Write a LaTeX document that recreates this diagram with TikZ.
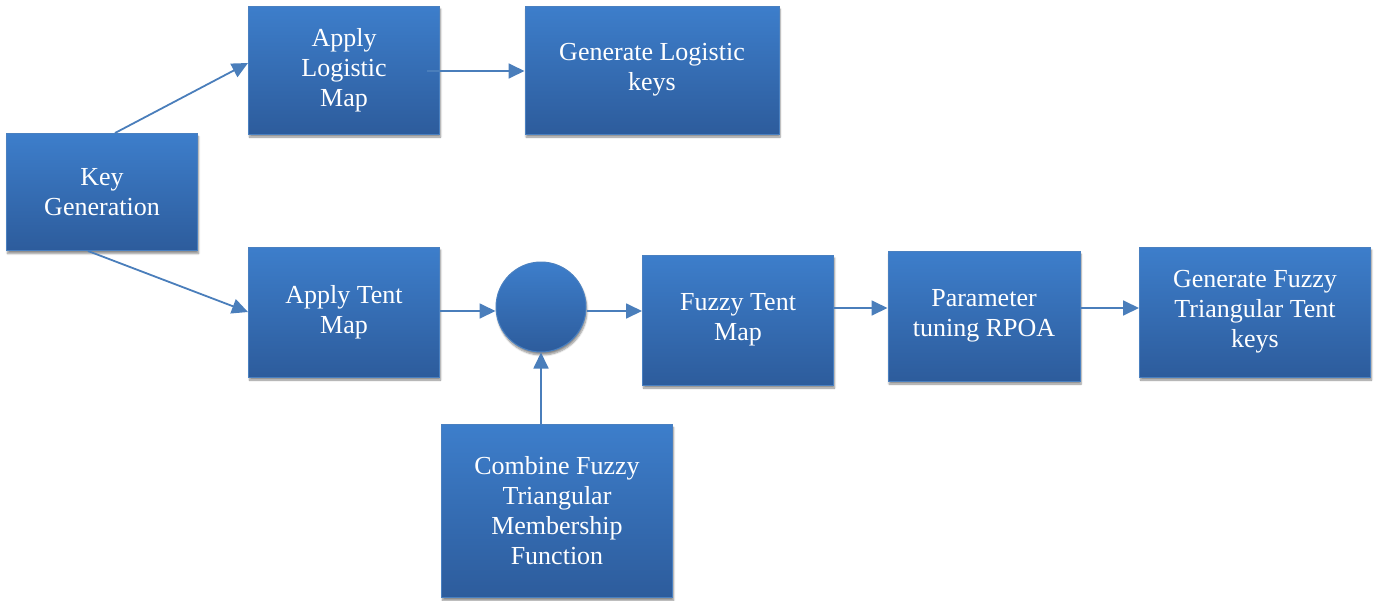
\documentclass[tikz,border=0pt]{standalone}
\usepackage{fontspec}
\setmainfont{Liberation Serif}
\usetikzlibrary{shapes,arrows.meta,positioning,calc,shadows.blur}
\usepackage{xcolor}
\definecolor{boxtop}{HTML}{3D7ECB}
\definecolor{boxbot}{HTML}{2D5C9C}
\definecolor{boxline}{HTML}{4A80C0}
\definecolor{flowline}{HTML}{4A7EBB}

\begin{document}
\begin{tikzpicture}[x=1pt, y=-1pt,
  block/.style={rectangle, draw=boxline, line width=1pt, top color=boxtop, bottom color=boxbot, text=white, align=center, font=\fontsize{26}{30}\selectfont, inner sep=2pt, blur shadow={shadow xshift=1pt, shadow yshift=-3pt, shadow blur steps=6, shadow opacity=45}},
  junction/.style={circle, draw=boxline, line width=1pt, top color=boxtop, bottom color=boxbot, minimum size=90pt, inner sep=0pt, blur shadow={shadow xshift=1pt, shadow yshift=-3pt, shadow blur steps=6, shadow opacity=45}},
  flow/.style={draw=flowline, line width=1.8pt, -{Triangle[length=16pt,width=15pt]}}
]
  \useasboundingbox (0,0) rectangle (1376,600);
  % left column
  \node[block, minimum width=191pt, minimum height=117pt] (keygen) at (102,192) {Key\\Generation};
  % logistic branch
  \node[block, minimum width=191pt, minimum height=128pt] (logistic) at (344,70) {Apply\\Logistic\\Map};
  \node[block, minimum width=254pt, minimum height=128pt] (logkeys) at (652,70) {Generate Logistic\\keys};
  % tent branch
  \node[block, minimum width=191pt, minimum height=130pt] (tent) at (344,312) {Apply Tent\\Map};
  \node[junction] (mix) at (541,307) {};
  \node[block, minimum width=231pt, minimum height=173pt] (member) at (557,511) {Combine Fuzzy\\Triangular\\Membership\\Function};
  \node[block, minimum width=191pt, minimum height=130pt] (fuzzytent) at (738,320) {Fuzzy Tent\\Map};
  \node[block, minimum width=192pt, minimum height=130pt] (rpoa) at (984,316) {Parameter\\tuning RPOA};
  \node[block, minimum width=231pt, minimum height=130pt] (tentkeys) at (1255,312) {Generate Fuzzy\\Triangular Tent\\keys};
  % connectors
  \draw[flow] ($(keygen.north)+(13,0)$) -- ($(logistic.west)+(0,-7)$);
  \draw[flow] ($(keygen.south)+(-14,0)$) -- ($(tent.west)+(0,0)$);
  \draw[flow] ($(logistic.east)+(-13,1)$) -- ($(logkeys.west)+(0,1)$);
  \draw[flow] ($(tent.east)+(0,-1)$) -- ($(mix.west)+(0,4)$);
  \draw[flow] ($(mix.east)+(0,4)$) -- ($(fuzzytent.west)+(0,-9)$);
  \draw[flow] ($(fuzzytent.east)+(0,-12)$) -- ($(rpoa.west)+(0,-8)$);
  \draw[flow] ($(rpoa.east)+(0,-8)$) -- ($(tentkeys.west)+(0,-4)$);
  \draw[flow] (member.north -| mix) -- (mix.south);
\end{tikzpicture}
\end{document}
